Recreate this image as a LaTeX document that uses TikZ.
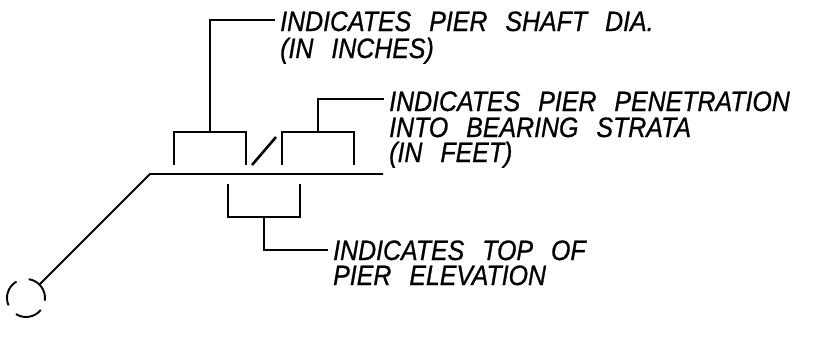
\documentclass[tikz,border=0pt]{standalone}
\usepackage{fontspec}
\newfontfamily\notefont[FakeStretch=0.89,FakeBold=0.8]{Liberation Sans Italic}
\newcommand{\wgap}{\hspace{18pt}}
\begin{document}
\tikzset{
  leader/.style = {line width = 1.9pt, line join = miter},
  note/.style = {anchor = base west, inner ysep = 0pt, inner xsep = 5pt, font = \notefont\fontsize{28}{28}\selectfont}
}
\begin{tikzpicture}[x = 1pt, y = -1pt]
   \useasboundingbox (0,0) rectangle (815,340);
   \node[note] (shaft_0) at (275,31) {INDICATES\wgap PIER\wgap SHAFT\wgap DIA.};
   \node[note] (shaft_1) at (275,58) {(IN\wgap INCHES)};
   \node[note] (pen_0) at (384,111) {INDICATES\wgap PIER\wgap PENETRATION};
   \node[note] (pen_1) at (384,137) {INTO\wgap BEARING\wgap STRATA};
   \node[note] (pen_2) at (384,162) {(IN\wgap FEET)};
   \node[note] (top_0) at (328,260) {INDICATES\wgap TOP\wgap OF};
   \node[note] (top_1) at (328,285) {PIER\wgap ELEVATION};
   \node[circle, minimum size = 37pt, inner sep = 0pt] (pin) at (26,298) {};
   \coordinate (bend) at (150,174);
   \coordinate (line_end) at (383,174);
   \coordinate (shaft_tee) at (210,132);
   \coordinate (pen_tee) at (318,132);
   \coordinate (top_tee) at (264,217);
   \coordinate (slash_0) at (252,165);
   \coordinate (slash_1) at (276,137);
   \path[leader, draw]
    (174,165) |- (246,132) -- (246,165)
    (282,165) |- (354,132) -- (354,165)
    (228,184) |- (300,217) -- (300,184);
   \draw[leader] (shaft_tee) |- ([yshift = 1pt]shaft_0.west);
   \draw[leader] (pen_tee) |- ([yshift = 2pt]pen_0.west);
   \draw[leader] (top_tee) |- (top_0.west);
   \draw[leader, line width = 2.6pt] (slash_0) -- (slash_1);
   \draw[leader] (pin) -- (bend) -- (line_end);
   \draw[leader] (pin.center) ++(82:19pt) arc[start angle = 82, end angle = -8, radius = 19pt];
   \draw[leader] (pin.center) ++(-39:19pt) arc[start angle = -39, end angle = -122, radius = 19pt];
   \draw[leader] (pin.center) ++(203:19pt) arc[start angle = 203, end angle = 120, radius = 19pt];
\end{tikzpicture}
\end{document}
